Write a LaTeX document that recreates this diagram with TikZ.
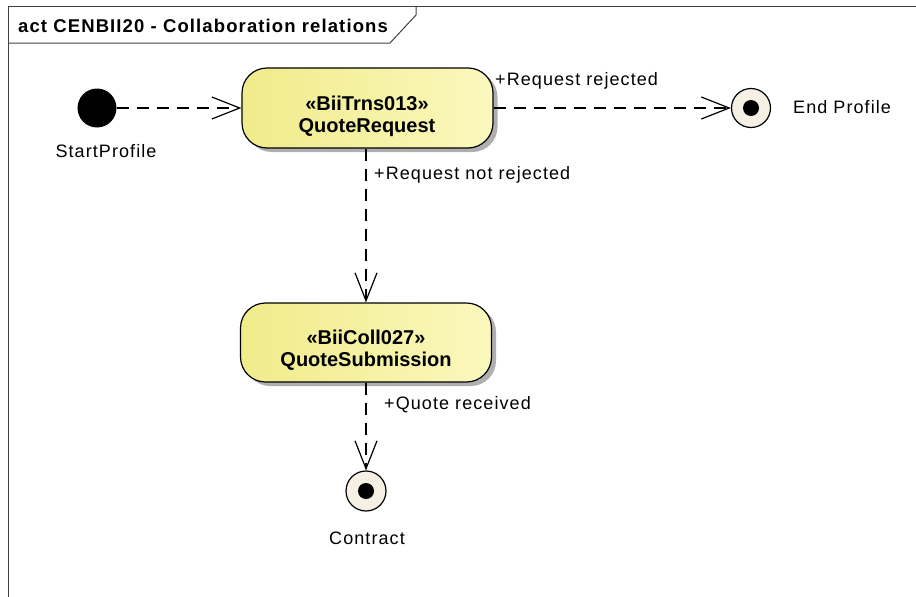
\documentclass[tikz,border=0pt]{standalone}
\usepackage{fontspec}
\setmainfont[LetterSpace=6]{Liberation Sans}
\newfontfamily\boxfont{Liberation Sans}
\usetikzlibrary{arrows.meta,shadows}
\definecolor{actleft}{RGB}{240,235,138}
\definecolor{actright}{RGB}{251,248,190}
\definecolor{endfill}{RGB}{246,240,228}
\tikzset{
  actbox/.style={rectangle, rounded corners=25pt, draw=black, line width=1.2pt,
    left color=actleft, right color=actright, minimum width=251pt, minimum height=80pt,
    inner sep=0pt,
    drop shadow={shadow xshift=4.5pt, shadow yshift=-4pt, fill=black!35, opacity=0.9}},
  acttext/.style={align=center, font=\fontsize{20pt}{22pt}\selectfont\boxfont\bfseries, inner sep=0pt},
  finalnode/.style={circle, draw=black, line width=1.2pt, fill=endfill, minimum size=39pt, inner sep=0pt},
  dotnode/.style={circle, fill=black, minimum size=16pt, inner sep=0pt},
  startnode/.style={circle, fill=black, minimum size=39pt, inner sep=0pt},
  lbl/.style={font=\fontsize{18pt}{21pt}\selectfont, inner sep=0pt},
  dep/.style={line width=1.2pt, dash pattern=on 12pt off 8pt, -{Straight Barb[length=28pt,width=22pt,line width=1.2pt]}},
  frameline/.style={line width=1pt, draw=black!75},
}
\begin{document}
\begin{tikzpicture}[x=1pt,y=-1pt]
\useasboundingbox (0,0) rectangle (916,597);
% frame
\draw[frameline] (8,597) -- (8,6) -- (916,6);
\draw[frameline] (8,43) -- (390,43) -- (416,15) -- (416,6);
\node[lbl, anchor=west, font=\fontsize{18.5pt}{21pt}\selectfont\bfseries] (title) at (18,26) {act CENBII20 - Collaboration relations};
% nodes
\node[startnode] (start) at (97,108) {};
\node[lbl] (startlbl) at (106,151) {StartProfile};
\node[actbox] (qr) at (367.5,108) {};
\node[acttext] (qrtext) at (367,116) {«BiiTrns013»\\QuoteRequest};
\node[finalnode] (endp) at (751,108) {};
\node[dotnode] (endpdot) at (endp.center) {};
\node[lbl, anchor=west] (endlbl) at (793,107) {End Profile};
\node[actbox, minimum height=79pt] (qs) at (366,342.5) {};
\node[acttext] (qstext) at (366,350) {«BiiColl027»\\QuoteSubmission};
\node[finalnode, minimum size=40pt] (contract) at (366,491) {};
\node[dotnode] (contractdot) at (contract.center) {};
\node[lbl] (contractlbl) at (367,538) {Contract};
% connectors
\draw[dep] (start) -- (qr);
\draw[dep] (qr) -- (endp);
\draw[dep] (qr.south -| qs.north) -- (qs.north);
\draw[dep] (qs.south) -- (contract.north);
% labels
\node[lbl, anchor=west] (l1) at (495,81) {+Request rejected};
\node[lbl, anchor=west] (l2) at (374,175) {+Request not rejected};
\node[lbl, anchor=west] (l3) at (384,405) {+Quote received};
\end{tikzpicture}
\end{document}
